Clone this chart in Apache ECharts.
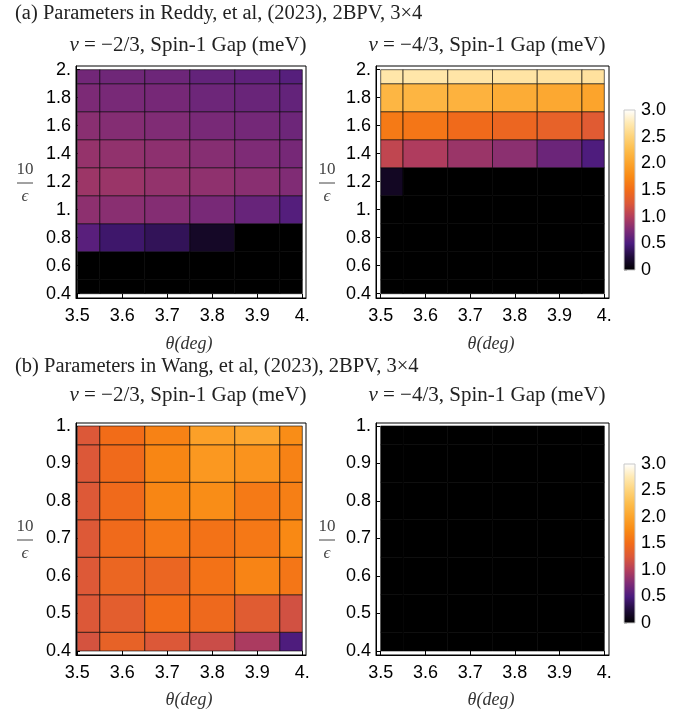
<!DOCTYPE html>
<html>
<head>
<meta charset="utf-8">
<script src="https://cdn.jsdelivr.net/npm/echarts@6/dist/echarts.min.js"></script>
<style>html,body{margin:0;padding:0;background:#fff}#c{width:695px;height:711px}</style>
</head>
<body>
<div id="c"></div>
<script>
// ---- data ----
const thetaVals = [3.5, 3.6, 3.7, 3.8, 3.9, 4.0];
const epsTop = [0.4, 0.6, 0.8, 1.0, 1.2, 1.4, 1.6, 1.8, 2.0];
const epsBot = [0.4, 0.5, 0.6, 0.7, 0.8, 0.9, 1.0];
const xTickLabels = ['3.5', '3.6', '3.7', '3.8', '3.9', '4.'];
const yTopTickLabels = ['0.4', '0.6', '0.8', '1.', '1.2', '1.4', '1.6', '1.8', '2.'];
const yBotTickLabels = ['0.4', '0.5', '0.6', '0.7', '0.8', '0.9', '1.'];
const cbTicks = [0, 0.5, 1.0, 1.5, 2.0, 2.5, 3.0];
const cbTickLabels = ['0', '0.5', '1.0', '1.5', '2.0', '2.5', '3.0'];

// rows follow epsTop / epsBot (ascending), columns follow thetaVals
const reddyNu23 = [
  [0, 0, 0, 0, 0, 0],
  [0, 0, 0, 0, 0, 0],
  [0.57, 0.43, 0.36, 0.17, 0, 0],
  [0.82, 0.80, 0.78, 0.72, 0.64, 0.55],
  [0.89, 0.88, 0.85, 0.83, 0.80, 0.76],
  [0.86, 0.84, 0.82, 0.79, 0.75, 0.71],
  [0.80, 0.78, 0.76, 0.72, 0.70, 0.67],
  [0.74, 0.72, 0.71, 0.67, 0.65, 0.62],
  [0.69, 0.68, 0.67, 0.62, 0.60, 0.56]
];
const reddyNu43 = [
  [0, 0, 0, 0, 0, 0],
  [0, 0, 0, 0, 0, 0],
  [0, 0, 0, 0, 0, 0],
  [0, 0, 0, 0, 0, 0],
  [0.15, 0, 0, 0, 0, 0],
  [1.08, 0.98, 0.88, 0.81, 0.66, 0.52],
  [1.62, 1.58, 1.48, 1.43, 1.37, 1.29],
  [2.18, 2.17, 2.14, 2.08, 2.04, 2.00],
  [2.70, 2.70, 2.69, 2.68, 2.67, 2.65]
];
const wangNu23 = [
  [1.20, 1.38, 1.25, 1.14, 0.96, 0.52],
  [1.25, 1.33, 1.50, 1.46, 1.30, 1.18],
  [1.26, 1.42, 1.42, 1.55, 1.70, 1.58],
  [1.26, 1.48, 1.60, 1.55, 1.60, 1.74],
  [1.26, 1.48, 1.72, 1.78, 1.62, 1.66],
  [1.25, 1.48, 1.72, 1.88, 1.84, 1.68],
  [1.25, 1.50, 1.68, 1.96, 2.02, 1.78]
];
const wangNu43 = [
  [0, 0, 0, 0, 0, 0],
  [0, 0, 0, 0, 0, 0],
  [0, 0, 0, 0, 0, 0],
  [0, 0, 0, 0, 0, 0],
  [0, 0, 0, 0, 0, 0],
  [0, 0, 0, 0, 0, 0],
  [0, 0, 0, 0, 0, 0]
];
const colorStops = ['#000000', '#1f0c3a', '#4a1b7e', '#7e2b76', '#b33e5c', '#dc5838', '#f26c18',
  '#f98a14', '#fca42c', '#fdbd4c', '#fed47c', '#ffeab4', '#ffffff'];

// ---- build ----
function toItems(rows, ys) {
  const out = [];
  rows.forEach((row, i) => row.forEach((v, j) => out.push([thetaVals[j], ys[i], v])));
  return out;
}
function cellRenderer(xs, ys) {
  const xStep = xs[1] - xs[0], yStep = ys[1] - ys[0];
  const xmin = xs[0], xmax = xs[xs.length - 1], ymin = ys[0], ymax = ys[ys.length - 1];
  return function (params, api) {
    const x = api.value(0), y = api.value(1);
    const x0 = Math.max(x - xStep / 2, xmin), x1 = Math.min(x + xStep / 2, xmax);
    const y0 = Math.max(y - yStep / 2, ymin), y1 = Math.min(y + yStep / 2, ymax);
    const a = api.coord([x0, y1]), b = api.coord([x1, y0]);
    return {
      type: 'rect',
      shape: { x: a[0], y: a[1], width: b[0] - a[0], height: b[1] - a[1] },
      style: { fill: api.visual('color'), stroke: 'rgba(0,0,0,0.6)', lineWidth: 1 }
    };
  };
}
const tickFont = { fontFamily: 'Liberation Sans', fontSize: 18, color: '#000' };
function xAxisDef(gi, min, max) {
  return {
    type: 'value', gridIndex: gi, min: min, max: max, position: 'bottom',
    axisLine: { show: true, onZero: false, lineStyle: { color: '#000', width: 1 } },
    axisTick: { show: true, inside: true, length: 4, customValues: thetaVals, lineStyle: { color: '#000' } },
    axisLabel: Object.assign({ margin: 9, customValues: thetaVals,
      formatter: v => xTickLabels[thetaVals.findIndex(t => Math.abs(t - v) < 1e-6)] }, tickFont),
    splitLine: { show: false }
  };
}
function yAxisDef(gi, min, max, ys, labels) {
  return {
    type: 'value', gridIndex: gi, min: min, max: max, position: 'left',
    axisLine: { show: true, onZero: false, lineStyle: { color: '#000', width: 1 } },
    axisTick: { show: true, inside: true, length: 4, customValues: ys, lineStyle: { color: '#000' } },
    axisLabel: Object.assign({ margin: 5, customValues: ys,
      formatter: v => labels[ys.findIndex(t => Math.abs(t - v) < 1e-6)] }, tickFont),
    splitLine: { show: false }
  };
}
const gradient = {
  type: 'linear', x: 0, y: 1, x2: 0, y2: 0,
  colorStops: colorStops.map((c, i) => ({ offset: i / (colorStops.length - 1), color: c }))
};
function colorbarRender(params, api) {
  const a = api.coord([0, 3]), b = api.coord([1, 0]);
  return {
    type: 'rect',
    shape: { x: a[0], y: a[1], width: b[0] - a[0], height: b[1] - a[1] },
    style: { fill: gradient, stroke: '#c8c8c8', lineWidth: 1 }
  };
}
function cbY(gi) {
  return {
    type: 'value', gridIndex: gi, min: 0, max: 3, position: 'right',
    axisLine: { show: false },
    axisTick: { show: true, inside: false, length: 3, customValues: cbTicks, lineStyle: { color: '#aaa' } },
    minorTick: { show: true, splitNumber: 5, length: 2, lineStyle: { color: '#bbb' } },
    axisLabel: Object.assign({ margin: 6, customValues: cbTicks,
      formatter: v => cbTickLabels[cbTicks.findIndex(t => Math.abs(t - v) < 1e-6)] }, tickFont),
    splitLine: { show: false }
  };
}

const serif = 'Liberation Serif';
function subtitle(cx, cy, nuText) {
  return {
    type: 'text', x: cx, y: cy,
    style: {
      text: '{i|ν} = ' + nuText + ', Spin-1 Gap (meV)',
      rich: { i: { fontStyle: 'italic', fontFamily: serif, fontSize: 21, fill: '#222' } },
      fontFamily: serif, fontSize: 21, fill: '#222',
      align: 'center', verticalAlign: 'middle', textAlign: 'center', textVerticalAlign: 'middle'
    }
  };
}
function plainText(x, y, text, size, opts) {
  return {
    type: 'text', x: x, y: y,
    style: Object.assign({
      text: text, fontFamily: serif, fontSize: size, fill: '#222',
      align: 'left', verticalAlign: 'middle', textAlign: 'left', textVerticalAlign: 'middle'
    }, opts || {})
  };
}
function fraction(cx, cy) {
  return [
    plainText(cx, cy - 13, '10', 17, { align: 'center', textAlign: 'center', fill: '#444' }),
    { type: 'line', shape: { x1: cx - 8, y1: cy, x2: cx + 8, y2: cy }, style: { stroke: '#444', lineWidth: 1 } },
    plainText(cx, cy + 14, 'ϵ', 17, { align: 'center', textAlign: 'center', fill: '#444', fontStyle: 'italic' })
  ];
}
function thetaLabel(cx, cy) {
  return plainText(cx, cy, 'θ(deg)', 18, { align: 'center', textAlign: 'center', fill: '#333', fontStyle: 'italic' });
}

const option = {
  animation: false,
  backgroundColor: '#fff',
  grid: [
    { left: 76, top: 66, width: 230, height: 232, show: true, borderColor: '#000', borderWidth: 1, backgroundColor: 'transparent' },
    { left: 376, top: 66, width: 233, height: 232, show: true, borderColor: '#000', borderWidth: 1, backgroundColor: 'transparent' },
    { left: 76, top: 423, width: 230, height: 232, show: true, borderColor: '#000', borderWidth: 1, backgroundColor: 'transparent' },
    { left: 376, top: 423, width: 233, height: 232, show: true, borderColor: '#000', borderWidth: 1, backgroundColor: 'transparent' },
    { left: 624, top: 110, width: 11, height: 160 },
    { left: 624, top: 464, width: 11, height: 159 }
  ],
  xAxis: [
    xAxisDef(0, 3.4971, 4.0082),
    xAxisDef(1, 3.4895, 4.0105),
    xAxisDef(2, 3.4971, 4.0082),
    xAxisDef(3, 3.4895, 4.0105),
    { type: 'value', gridIndex: 4, min: 0, max: 1, show: false },
    { type: 'value', gridIndex: 5, min: 0, max: 1, show: false }
  ],
  yAxis: [
    yAxisDef(0, 0.3693, 2.0264, epsTop, yTopTickLabels),
    yAxisDef(1, 0.3693, 2.0264, epsTop, yTopTickLabels),
    yAxisDef(2, 0.3893, 1.008, epsBot, yBotTickLabels),
    yAxisDef(3, 0.3893, 1.008, epsBot, yBotTickLabels),
    cbY(4),
    cbY(5)
  ],
  visualMap: {
    type: 'continuous', show: false, min: 0, max: 3, dimension: 2,
    seriesIndex: [0, 1, 2, 3], inRange: { color: colorStops }
  },
  series: [
    { type: 'custom', xAxisIndex: 0, yAxisIndex: 0, renderItem: cellRenderer(thetaVals, epsTop), data: toItems(reddyNu23, epsTop) },
    { type: 'custom', xAxisIndex: 1, yAxisIndex: 1, renderItem: cellRenderer(thetaVals, epsTop), data: toItems(reddyNu43, epsTop) },
    { type: 'custom', xAxisIndex: 2, yAxisIndex: 2, renderItem: cellRenderer(thetaVals, epsBot), data: toItems(wangNu23, epsBot) },
    { type: 'custom', xAxisIndex: 3, yAxisIndex: 3, renderItem: cellRenderer(thetaVals, epsBot), data: toItems(wangNu43, epsBot) },
    { type: 'custom', xAxisIndex: 4, yAxisIndex: 4, renderItem: colorbarRender, data: [[0, 0, 0]] },
    { type: 'custom', xAxisIndex: 5, yAxisIndex: 5, renderItem: colorbarRender, data: [[0, 0, 0]] }
  ],
  graphic: [
    plainText(15, 14, '(a) Parameters in Reddy, et al, (2023), 2BPV, 3×4', 20.5),
    plainText(15, 367, '(b) Parameters in Wang, et al, (2023), 2BPV, 3×4', 20.5),
    subtitle(188, 45, '−2/3'),
    subtitle(487, 45, '−4/3'),
    subtitle(188, 395, '−2/3'),
    subtitle(487, 395, '−4/3'),
    thetaLabel(189, 344),
    thetaLabel(491, 344),
    thetaLabel(189, 700),
    thetaLabel(491, 700)
  ].concat(fraction(25, 183), fraction(25, 540), fraction(327, 183), fraction(327, 540))
};
const chart = echarts.init(document.getElementById('c'), null, { renderer: 'canvas' });
chart.setOption(option);
</script>
</body>
</html>
